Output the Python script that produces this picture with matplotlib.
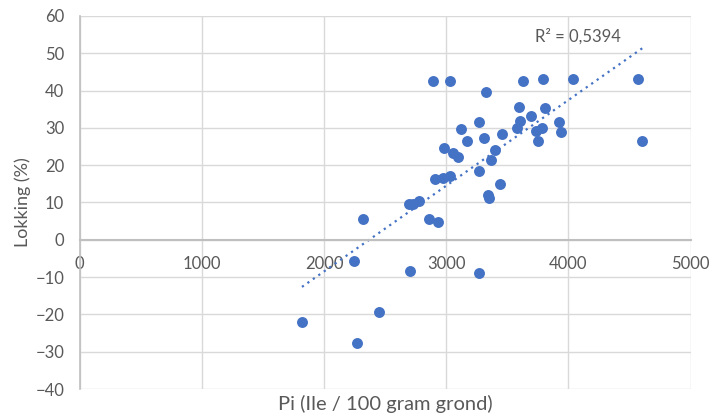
import matplotlib
matplotlib.use('Agg')
import matplotlib.pyplot as plt
import numpy as np

# data
pi_values = [1820, 2270, 2453, 2243, 2322, 2701, 3271, 2862, 2930, 2698,
             2731, 2777, 2908, 2976, 3031, 3271, 3344, 3350, 3440, 3363,
             2984, 3058, 3099, 3118, 3167, 3265, 3309, 3399, 3456, 3576,
             3593, 3603, 3696, 3734, 3781, 3748, 3810, 3925, 3939, 4604,
             2894, 3031, 3325, 3630, 3789, 4039, 4571]
lokking = [-22.1, -27.8, -19.4, -5.6, 5.5, -8.3, -8.9, 5.7, 4.7, 9.6,
           9.7, 10.3, 16.4, 16.7, 17.0, 18.4, 12.1, 11.2, 14.9, 21.3,
           24.6, 23.3, 22.1, 29.8, 26.4, 31.6, 27.3, 24.2, 28.3, 30.0,
           35.5, 31.9, 33.3, 29.1, 30.0, 26.4, 35.4, 31.6, 29.0, 26.5,
           42.7, 42.7, 39.5, 42.6, 43.2, 43.2, 43.2]
x_ticks = [0, 1000, 2000, 3000, 4000, 5000]
y_ticks = [-40, -30, -20, -10, 0, 10, 20, 30, 40, 50, 60]
r2_label = 'R² = 0,5394'

plt.rcParams['font.family'] = ['Lato', 'DejaVu Sans']
grey = '#595959'
blue = '#4472C4'

fig = plt.figure(figsize=(7.12, 4.19), dpi=100)
ax = fig.add_axes([79.5 / 712, 1 - 389 / 419, (690.7 - 79.5) / 712, (389 - 16) / 419])

ax.set_xlim(0, 5000)
ax.set_ylim(-40, 60)
ax.set_xticks(x_ticks)
ax.set_yticks(y_ticks)
ax.grid(True, color='#d9d9d9', linewidth=1)
ax.set_axisbelow(True)

# spines: only the left axis and the zero line, like excel
for side in ['top', 'right']:
    ax.spines[side].set_visible(False)
ax.spines['left'].set_color('#bfbfbf')
ax.spines['left'].set_linewidth(1.2)
ax.spines['bottom'].set_position(('data', 0))
ax.spines['bottom'].set_color('#bfbfbf')
ax.spines['bottom'].set_linewidth(1.5)
ax.tick_params(axis='both', length=0, labelsize=12, labelcolor=grey)
ax.tick_params(axis='x', pad=12)
ax.tick_params(axis='y', pad=11)

# scatter
ax.scatter(pi_values, lokking, s=62, color=blue, zorder=3, linewidths=0)

# linear trendline over the data range
coef = np.polyfit(pi_values, lokking, 1)
tx = np.array([min(pi_values), max(pi_values)])
ax.plot(tx, np.polyval(coef, tx), color=blue, linewidth=1.6,
        linestyle=(0, (1, 2)), zorder=2)

ax.text(3726, 54.6, r2_label, color=grey, fontsize=12, va='center', ha='left')

fig.text(385 / 712, 1 - 404 / 419, 'Pi (Ile / 100 gram grond)', color=grey,
         fontsize=14.5, ha='center', va='center')
fig.text(23 / 712, 1 - 202 / 419, 'Lokking (%)', color=grey, fontsize=13,
         ha='center', va='center', rotation=90)

fig.savefig('out.png', dpi=100)
